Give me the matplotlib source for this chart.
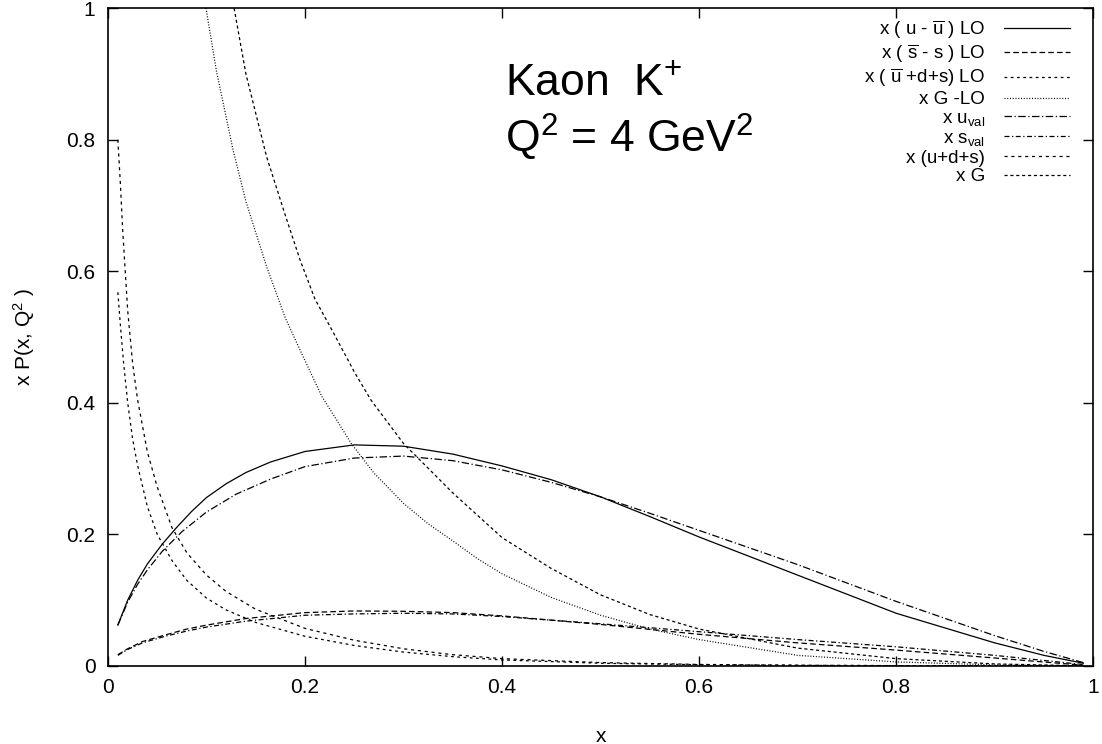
#!/usr/bin/env python3
import numpy as np
import matplotlib
matplotlib.use("Agg")
import matplotlib.pyplot as plt
from matplotlib.ticker import FuncFormatter

plt.rcParams['font.family'] = ['Liberation Sans', 'DejaVu Sans']
plt.rcParams['mathtext.default'] = 'regular'

# values
x_uv_lo = [0.01, 0.02, 0.03, 0.04, 0.055, 0.07, 0.085, 0.1, 0.12, 0.14, 0.165, 0.2,
           0.25, 0.3, 0.35, 0.4, 0.45, 0.5, 0.55, 0.6, 0.7, 0.8, 0.9, 0.95, 0.99]
y_uv_lo = [0.062, 0.1, 0.13, 0.155, 0.185, 0.211, 0.235, 0.256, 0.277, 0.294, 0.31, 0.326,
           0.336, 0.334, 0.322, 0.304, 0.283, 0.257, 0.227, 0.196, 0.138, 0.08, 0.035, 0.016, 0.004]

x_uval = [0.01, 0.02, 0.03, 0.04, 0.055, 0.075, 0.1, 0.13, 0.165, 0.2,
          0.25, 0.3, 0.35, 0.4, 0.45, 0.5, 0.55, 0.6, 0.7, 0.8, 0.9, 0.95, 0.99]
y_uval = [0.062, 0.097, 0.124, 0.146, 0.174, 0.204, 0.234, 0.261, 0.284, 0.303,
          0.316, 0.319, 0.312, 0.298, 0.279, 0.257, 0.232, 0.206, 0.154, 0.098, 0.046, 0.022, 0.005]

x_sv = [0.01, 0.02, 0.035, 0.058, 0.08, 0.1, 0.14, 0.2, 0.25, 0.3, 0.35, 0.4,
        0.5, 0.6, 0.7, 0.8, 0.9, 0.99]
y_sv_lo = [0.017, 0.026, 0.037, 0.047, 0.056, 0.062, 0.072, 0.081, 0.0835, 0.083, 0.081, 0.076,
           0.063, 0.048, 0.035, 0.024, 0.012, 0.001]
y_sval = [0.016, 0.025, 0.035, 0.045, 0.053, 0.059, 0.068, 0.077, 0.079, 0.080, 0.079, 0.075,
          0.064, 0.052, 0.04, 0.029, 0.016, 0.002]

x_sea = [0.01, 0.0125, 0.015, 0.02, 0.025, 0.03, 0.04, 0.05, 0.065, 0.08, 0.1, 0.12,
         0.15, 0.2, 0.25, 0.3, 0.35, 0.4, 0.5, 0.6, 0.7, 0.8, 0.99]
y_sea = [0.8, 0.735, 0.66, 0.54, 0.46, 0.405, 0.325, 0.272, 0.21, 0.172, 0.138, 0.113,
         0.086, 0.057, 0.039, 0.026, 0.017, 0.011, 0.005, 0.0022, 0.001, 0.0004, 0.0]

x_sea_lo = [0.01, 0.013, 0.016, 0.02, 0.025, 0.03, 0.04, 0.05, 0.065, 0.08, 0.1, 0.12,
            0.15, 0.2, 0.25, 0.3, 0.35, 0.4, 0.5, 0.6, 0.7, 0.8, 0.99]
y_sea_lo = [0.568, 0.51, 0.458, 0.40, 0.345, 0.305, 0.242, 0.2, 0.16, 0.13, 0.103, 0.085,
            0.066, 0.045, 0.031, 0.021, 0.014, 0.009, 0.004, 0.0018, 0.0008, 0.0003, 0.0]

x_g_lo = [0.0995, 0.11, 0.127, 0.14, 0.161, 0.18, 0.195, 0.217, 0.247, 0.27, 0.3, 0.325,
          0.35, 0.375, 0.4, 0.45, 0.5, 0.55, 0.6, 0.7, 0.8, 0.9, 0.99]
y_g_lo = [1.0, 0.905, 0.784, 0.706, 0.607, 0.529, 0.48, 0.41, 0.338, 0.293, 0.247, 0.216,
          0.19, 0.163, 0.14, 0.104, 0.077, 0.056, 0.04, 0.016, 0.006, 0.0015, 0.0]

x_g = [0.128, 0.14, 0.161, 0.18, 0.195, 0.21, 0.229, 0.25, 0.267, 0.3, 0.35,
       0.4, 0.45, 0.5, 0.55, 0.6, 0.7, 0.8, 0.9, 0.99]
y_g = [1.0, 0.9, 0.774, 0.685, 0.617, 0.558, 0.506, 0.447, 0.404, 0.338, 0.263,
       0.195, 0.148, 0.108, 0.078, 0.056, 0.027, 0.011, 0.003, 0.0]

labels = [r"x ( u - $\overline{u}$ ) LO",
          r"x ( $\overline{s}$ - s ) LO",
          r"x ( $\overline{u}$ +d+s) LO",
          "x G -LO",
          r"x u$_{val}$",
          r"x s$_{val}$",
          "x (u+d+s)",
          "x G"]

fig = plt.figure(figsize=(11.02, 7.44), dpi=100)
ax = fig.add_axes([0.098, 0.105, 0.894, 0.884])

k = dict(color='black', lw=0.9)
ax.plot(x_uv_lo, y_uv_lo, ls='-', label=labels[0], **k)
ax.plot(x_sv, y_sv_lo, ls=(0, (4.5, 2.5)), label=labels[1], **k)
ax.plot(x_sea_lo, y_sea_lo, ls=(0, (2.2, 2.8)), label=labels[2], **k)
ax.plot(x_g_lo, y_g_lo, ls=(0, (0.8, 1.4)), label=labels[3], **k)
ax.plot(x_uval, y_uval, ls=(0, (6, 2, 1, 2)), label=labels[4], **k)
ax.plot(x_sv, y_sval, ls=(0, (4, 2, 1, 2)), label=labels[5], **k)
ax.plot(x_sea, y_sea, ls=(0, (2.5, 3)), label=labels[6], **k)
ax.plot(x_g, y_g, ls=(0, (2.5, 2.2)), label=labels[7], **k)

ax.set_xlim(0, 1)
ax.set_ylim(0, 1)
ax.set_xticks(np.arange(0, 1.01, 0.2))
ax.set_yticks(np.arange(0, 1.01, 0.2))
fmt = FuncFormatter(lambda v, p: f"{v:g}")
ax.xaxis.set_major_formatter(fmt)
ax.yaxis.set_major_formatter(fmt)
ax.tick_params(direction='in', length=7, width=1, top=True, right=True,
               labelsize=15, pad=9)
for s in ax.spines.values():
    s.set_linewidth(1.2)

ax.set_xlabel("x", fontsize=15, labelpad=21)
ax.set_ylabel(r"x P(x, Q$^{2}$ )", fontsize=15, labelpad=21)

ax.text(0.403, 0.868, r"Kaon  K$^{+}$", fontsize=32)
ax.text(0.403, 0.78, r"Q$^{2}$ = 4 GeV$^{2}$", fontsize=32)

leg = ax.legend(loc='upper right', bbox_to_anchor=(0.976, 0.985), frameon=False,
                markerfirst=False, fontsize=13.5, handlelength=3.5,
                handletextpad=1.0, labelspacing=0.09, borderpad=0, borderaxespad=0)
for col in leg._legend_handle_box.get_children():
    col.align = "right"

fig.savefig("out.png", dpi=100)
